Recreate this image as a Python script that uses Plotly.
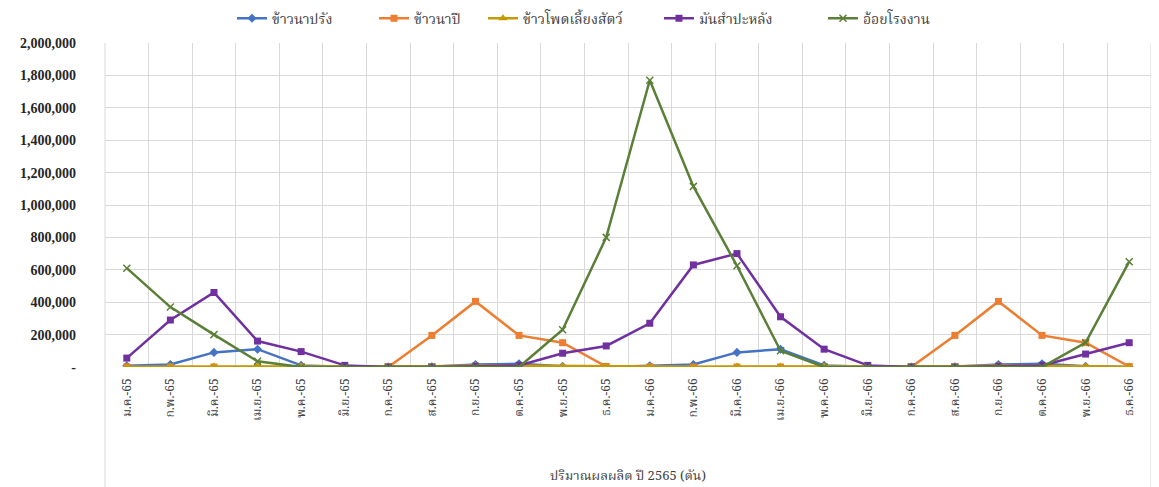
import plotly.graph_objects as go

months = ["ม.ค.-65", "ก.พ.-65", "มี.ค.-65", "เม.ย.-65", "พ.ค.-65", "มิ.ย.-65",
          "ก.ค.-65", "ส.ค.-65", "ก.ย.-65", "ต.ค.-65", "พ.ย.-65", "ธ.ค.-65",
          "ม.ค.-66", "ก.พ.-66", "มี.ค.-66", "เม.ย.-66", "พ.ค.-66", "มิ.ย.-66",
          "ก.ค.-66", "ส.ค.-66", "ก.ย.-66", "ต.ค.-66", "พ.ย.-66", "ธ.ค.-66"]

rice_offseason = [8000, 15000, 90000, 110000, 10000, 2000, 0, 2000, 15000, 20000, 5000, 0,
                  8000, 15000, 90000, 110000, 10000, 2000, 0, 2000, 15000, 20000, 5000, 0]
rice_main = [0, 0, 0, 0, 0, 0, 0, 195000, 405000, 195000, 150000, 3000,
             0, 0, 0, 0, 0, 0, 0, 195000, 405000, 195000, 150000, 3000]
maize = [2000, 2000, 3000, 3000, 2000, 1000, 1000, 5000, 10000, 8000, 5000, 2000,
         2000, 2000, 3000, 3000, 2000, 1000, 1000, 5000, 10000, 8000, 5000, 2000]
cassava = [55000, 290000, 460000, 160000, 95000, 10000, 0, 0, 5000, 10000, 85000, 130000,
           270000, 630000, 700000, 310000, 110000, 10000, 0, 0, 5000, 10000, 80000, 150000]
sugarcane = [610000, 370000, 200000, 35000, 0, 0, 0, 0, 0, 0, 230000, 800000,
             1770000, 1115000, 625000, 100000, 0, 0, 0, 0, 0, 0, 150000, 650000]

series = [
    ("ข้าวนาปรัง", rice_offseason, "#4472C4", "diamond"),
    ("ข้าวนาปี", rice_main, "#ED7D31", "square"),
    ("ข้าวโพดเลี้ยงสัตว์", maize, "#C49A00", "triangle-up"),
    ("มันสำปะหลัง", cassava, "#7030A0", "square"),
    ("อ้อยโรงงาน", sugarcane, "#5A7F36", "x-thin"),
]
legend_x = [0.1214, 0.2572, 0.3614, 0.5296, 0.6864]

y_ticks = list(range(0, 2000001, 200000))
y_text = ["-"] + [f"{v:,}" for v in y_ticks[1:]]

thai_font = "Noto Serif Thai, Noto Sans Thai, Loma, Garuda, Tahoma, Liberation Serif, serif"

fig = go.Figure()
legend_layout = {}
for i, (name, vals, color, sym) in enumerate(series):
    if sym == "x-thin":
        marker = dict(symbol="x-thin", size=7, color="#E8F0D8",
                      line=dict(color=color, width=1.5))
    else:
        marker = dict(symbol=sym, size=7 if sym != "triangle-up" else 8, color=color,
                      line=dict(color=color, width=0))
    lname = "legend" if i == 0 else f"legend{i + 1}"
    fig.add_trace(go.Scatter(x=months, y=vals, name=name, mode="lines+markers",
                             line=dict(color=color, width=2.5), marker=marker,
                             legend=lname))
    legend_layout[lname] = dict(orientation="h", x=legend_x[i], xanchor="left",
                                y=1.075, yanchor="middle",
                                font=dict(size=14, color="#404040"),
                                bgcolor="rgba(0,0,0,0)", itemwidth=30)

fig.update_layout(
    width=1151, height=479,
    margin=dict(l=97, r=8, t=35, b=120, autoexpand=False),
    paper_bgcolor="white", plot_bgcolor="white",
    font=dict(family=thai_font, size=12, color="#404040"),
    showlegend=True,
    **legend_layout,
)
fig.update_xaxes(
    type="category", tickson="boundaries", tickangle=-90,
    showgrid=True, gridcolor="#D9D9D9", gridwidth=1, automargin=False,
    showline=False, ticks="", tickfont=dict(size=12, color="#404040"),
    ticklabelstandoff=8,
    title=dict(text="ปริมาณผลผลิต ปี 2565 (ตัน)", font=dict(size=13, color="#404040"),
               standoff=67),
    range=[-0.5, 23.5],
)
fig.update_yaxes(
    range=[0, 2000000], tickvals=y_ticks, ticktext=y_text, automargin=False,
    showgrid=True, gridcolor="#D9D9D9", gridwidth=1, zeroline=False,
    tickfont=dict(family="Liberation Serif", size=14, color="#262626", weight="bold"),
    ticks="", showline=False, ticklabelstandoff=28,
)
# chart-area frame lines
fig.add_shape(type="line", xref="paper", yref="paper", x0=0, x1=0, y0=-0.45, y1=1,
              line=dict(color="#D9D9D9", width=1))
fig.add_shape(type="line", xref="paper", yref="paper", x0=1, x1=1, y0=-0.45, y1=1,
              line=dict(color="#D9D9D9", width=1))

fig.write_html("out.html")
